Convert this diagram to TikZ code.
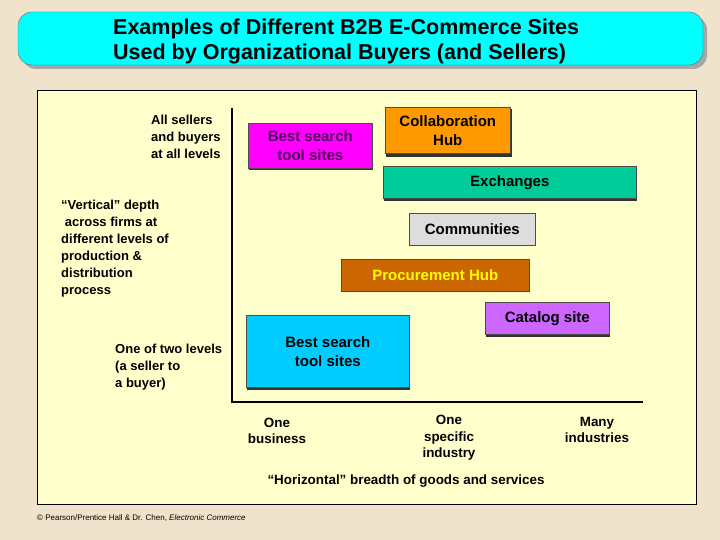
\documentclass[tikz,border=0pt]{standalone}
\usepackage{fontspec}
\setmainfont{Liberation Sans}
\begin{document}
\begin{tikzpicture}[x=1pt,y=-1pt,
  box/.style={draw=black!70,line width=0.6pt,minimum height=#1,inner sep=1pt,align=center,font=\bfseries\fontsize{15}{19}\selectfont},
  lbl/.style={align=left,anchor=north west,inner sep=0pt,font=\bfseries\fontsize{13}{17}\selectfont},
  clbl/.style={align=center,inner sep=0pt,font=\bfseries\fontsize{13.4}{16.5}\selectfont}]
\definecolor{parch}{HTML}{EFE3CC}
\definecolor{pan}{HTML}{FFFFCC}
\definecolor{ttl}{HTML}{00FFFF}
\useasboundingbox (0,0) rectangle (720,540);
\fill[parch] (0,0) rectangle (720,540);
% title
\fill[gray!70,rounded corners=14pt] (22,16) rectangle (707,69);
\filldraw[fill=ttl,draw=black!60,rounded corners=14pt] (18,12) rectangle (703,65);
\node[anchor=north west,align=left,inner sep=0pt,font=\bfseries\fontsize{21.5}{25}\selectfont] (title) at (113,19) {Examples of Different B2B E-Commerce Sites\\Used by Organizational Buyers (and Sellers)};
% panel
\filldraw[fill=pan,draw=black,line width=0.8pt] (37,90) rectangle (696,504);
% axes
\coordinate (top) at (232,108);
\coordinate (org) at (232,402);
\coordinate (rt) at (643,402);
\draw[line width=1.6pt] (top) -- (org) -- (rt);
% boxes
\fill[black!80] (249,125) rectangle (373,170);
\node[box=45pt,minimum width=124pt,fill={rgb,255:red,255;green,0;blue,255},text={rgb,255:red,80;green,0;blue,90},anchor=north west] (bst) at (248,123) {Best search\\tool sites};
\fill[black!80] (386,109) rectangle (512,157);
\node[box=46pt,minimum width=125pt,fill={rgb,255:red,255;green,153;blue,0},anchor=north west] (col) at (385,107) {Collaboration\\Hub};
\fill[black!80] (384,168) rectangle (637,201);
\node[box=32pt,minimum width=253pt,fill={rgb,255:red,0;green,204;blue,153},anchor=north west] (exc) at (383,166) {Exchanges};
\node[box=32pt,minimum width=126pt,fill={rgb,255:red,221;green,221;blue,221},anchor=north west] (com) at (409,213) {Communities};
\node[box=32pt,minimum width=188pt,fill={rgb,255:red,204;green,102;blue,0},text={rgb,255:red,255;green,255;blue,0},anchor=north west] (pro) at (341,259) {Procurement Hub};
\fill[black!80] (486,304) rectangle (610,337);
\node[box=32pt,minimum width=124pt,fill={rgb,255:red,204;green,102;blue,255},anchor=north west] (cat) at (485,302) {Catalog site};
\fill[black!80] (247,317) rectangle (410,390);
\node[box=72pt,minimum width=163pt,fill={rgb,255:red,0;green,204;blue,255},anchor=north west] (bsl) at (246,315) {Best search\\tool sites};
% labels
\node[lbl] (l1) at (151,115) {All sellers\\and buyers\\at all levels};
\node[lbl] (l2) at (61,200) {“Vertical” depth\\\ across firms at\\different levels of\\production \&\\distribution\\process};
\node[lbl] (l3) at (115,344) {One of two levels\\(a seller to\\a buyer)};
\node[clbl] (h1) at (277,431) {One\\business};
\node[clbl] (h2) at (449,438) {One\\specific\\industry};
\node[clbl] (h3) at (597,430) {Many\\industries};
\node[clbl] (hz) at (406,481) {“Horizontal” breadth of goods and services};
\node[anchor=west,inner sep=0pt,font=\fontsize{8}{9}\selectfont] (cp) at (37,518) {© Pearson/Prentice Hall \& Dr. Chen, \textit{Electronic Commerce}};
\end{tikzpicture}
\end{document}
